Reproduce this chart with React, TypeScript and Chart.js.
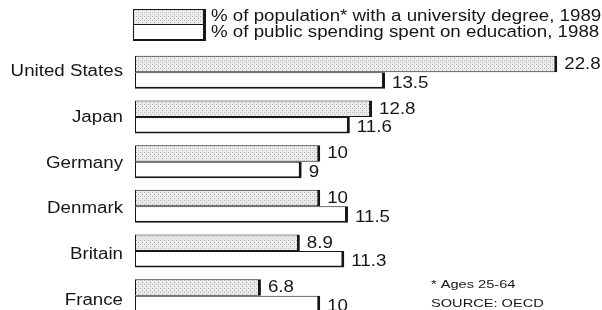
import React, { useEffect, useRef } from "react";
import { Chart, registerables } from "chart.js";

Chart.register(...registerables);

const countries = ["United States", "Japan", "Germany", "Denmark", "Britain", "France"];
const degreeShare = [22.8, 12.8, 10, 10, 8.9, 6.8];
const eduSpending = [13.5, 11.6, 9, 11.5, 11.3, 10];
const seriesLabels = [
  "% of population* with a university degree, 1989",
  "% of public spending spent on education, 1988",
];
const footnotes = ["* Ages 25-64", "SOURCE: OECD"];

const FONT = '"Liberation Sans", Arial, Helvetica, sans-serif';
const INK = "#161616";
const FS = 16;
const SX = 1.17;

function makePattern(): CanvasPattern | string {
  const c = document.createElement("canvas");
  c.width = 4;
  c.height = 4;
  const g = c.getContext("2d");
  if (!g) return "#dddddd";
  g.fillStyle = "#ebebeb";
  g.fillRect(0, 0, 4, 4);
  g.fillStyle = "#b8b8b8";
  g.fillRect(0, 0, 1, 1);
  g.fillRect(2, 2, 1, 1);
  g.fillStyle = "#d2d2d2";
  g.fillRect(2, 0, 1, 1);
  const p = g.createPattern(c, "repeat");
  return p || "#dddddd";
}

function sText(
  ctx: CanvasRenderingContext2D,
  text: string,
  x: number,
  y: number,
  size: number,
  sx: number,
  align: "left" | "right" = "left"
) {
  ctx.save();
  ctx.font = `${size}px ${FONT}`;
  ctx.textBaseline = "middle";
  ctx.textAlign = "left";
  ctx.fillStyle = INK;
  const w = ctx.measureText(text).width * sx;
  const x0 = align === "right" ? x - w : x;
  ctx.translate(x0, y);
  ctx.scale(sx, 1);
  ctx.fillText(text, 0, 0);
  ctx.restore();
}

function shadowBox(
  ctx: CanvasRenderingContext2D,
  x: number,
  y: number,
  w: number,
  h: number,
  fill: CanvasPattern | string
) {
  ctx.save();
  ctx.fillStyle = INK;
  ctx.fillRect(x, y, w + 3, h + 2);
  ctx.fillStyle = fill;
  ctx.fillRect(x + 1, y + 1, w - 1, h - 1);
  ctx.restore();
}

export default function App() {
  const ref = useRef<HTMLCanvasElement | null>(null);

  useEffect(() => {
    const canvas = ref.current;
    if (!canvas) return;
    const pattern = makePattern();

    const textPlugin = {
      id: "scanText",
      afterDatasetsDraw(chart: any) {
        const ctx: CanvasRenderingContext2D = chart.ctx;
        const yScale = chart.scales.y;
        // country labels
        countries.forEach((c, i) => {
          sText(ctx, c, 123, yScale.getPixelForValue(i) - 0.5 + i, FS, SX, "right");
        });
        // value labels
        chart.data.datasets.forEach((ds: any, di: number) => {
          const meta = chart.getDatasetMeta(di);
          meta.data.forEach((el: any, i: number) => {
            const v = ds.data[i];
            sText(ctx, String(v), el.x + 7, el.y + (di === 0 ? 0.5 : 2.5), FS, SX, "left");
          });
        });
        // legend
        const lx = 133;
        const lw = 70;
        shadowBox(ctx, lx, 9, lw, 30, "#ffffff");
        ctx.save();
        ctx.fillStyle = pattern as any;
        ctx.fillRect(lx + 1, 10, lw - 1, 14);
        ctx.fillStyle = INK;
        ctx.fillRect(lx, 24, lw, 1);
        ctx.restore();
        sText(ctx, seriesLabels[0], 211, 16.5, FS, SX);
        sText(ctx, seriesLabels[1], 211, 33, FS, SX);
        // footnotes
        sText(ctx, footnotes[0], 431, 285, 11.5, 1.27);
        sText(ctx, footnotes[1], 431, 304, 11.5, 1.27);
      },
    };

    const chart = new Chart(canvas, {
      type: "bar",
      data: {
        labels: countries,
        datasets: [
          {
            label: seriesLabels[0],
            data: degreeShare,
            backgroundColor: pattern as any,
            borderColor: INK,
            borderWidth: { top: 1, left: 1, bottom: 1, right: 3 },
            borderSkipped: false,
            categoryPercentage: 0.74,
            barPercentage: 1,
          },
          {
            label: seriesLabels[1],
            data: eduSpending,
            backgroundColor: "#ffffff",
            borderColor: INK,
            borderWidth: { top: 1, left: 1, bottom: 2, right: 3 },
            borderSkipped: false,
            categoryPercentage: 0.74,
            barPercentage: 1,
          },
        ],
      },
      options: {
        indexAxis: "y",
        responsive: false,
        animation: false,
        devicePixelRatio: 1,
        layout: { padding: { left: 135, right: 4, top: 50, bottom: 12 } },
        scales: {
          x: { display: false, min: 0, max: 25 },
          y: { display: false },
        },
        plugins: {
          legend: { display: false },
          tooltip: { enabled: false },
        },
      },
      plugins: [textPlugin],
    });
    return () => chart.destroy();
  }, []);

  return (
    <div
      style={{
        position: "absolute",
        left: 0,
        top: 0,
        width: 602,
        height: 310,
        overflow: "hidden",
        background: "#ffffff",
      }}
    >
      <canvas ref={ref} width={602} height={330} style={{ display: "block" }} />
    </div>
  );
}
